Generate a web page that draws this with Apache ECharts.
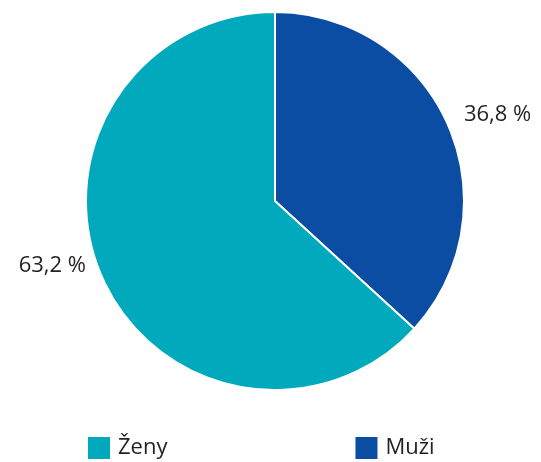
<!DOCTYPE html>
<html>
<head>
<meta charset="utf-8">
<script src="https://cdn.jsdelivr.net/npm/echarts@6/dist/echarts.min.js"></script>
<style>
	html, body { margin: 0; padding: 0; background: #fff; }
	#chart { width: 541px; height: 462px; }
</style>
</head>
<body>
<div id="chart"></div>
<script>
var categories = ["Muži", "Ženy"]; //kategorie
var values = [36.8, 63.2]; //podíl v %
var legendOrder = ["Ženy", "Muži"];
var colors = ["#0b4da2", "#00a9bc"];

var chart = echarts.init(document.getElementById("chart"));

var pieData = [];
for(var i = 0; i < categories.length; i++) {
	pieData.push({
		name: categories[i],
		value: values[i],
		itemStyle: { color: colors[i] }
	});
}

var option = {
	animation: false,
	textStyle: { fontFamily: "Open Sans" },
	legend: {
		data: legendOrder,
		left: 86,
		top: 435,
		padding: 0,
		itemWidth: 24,
		itemHeight: 24,
		itemGap: 186,
		icon: "rect",
		textStyle: {
			fontFamily: "Open Sans",
			fontSize: 22,
			color: "#231f20",
			padding: [0, 0, 0, 2]
		}
	},
	series: [{
		type: "pie",
		center: [275, 201],
		radius: 189,
		startAngle: 90,
		clockwise: true,
		itemStyle: {
			borderColor: "#fff",
			borderWidth: 2
		},
		label: {
			show: true,
			position: "outside",
			fontFamily: "Open Sans",
			fontSize: 22,
			color: "#231f20",
			overflow: "none",
			formatter: function(p) {
				return p.value.toFixed(1).replace(".", ",") + " %";
			}
		},
		labelLine: {
			show: false,
			length: 12,
			length2: 0
		},
		labelLayout: function(params) {
			if(params.dataIndex == 1) {
				return { dy: -16 };
			}
			return { dy: -5 };
		},
		data: pieData
	}]
};
chart.setOption(option);
</script>
</body>
</html>
